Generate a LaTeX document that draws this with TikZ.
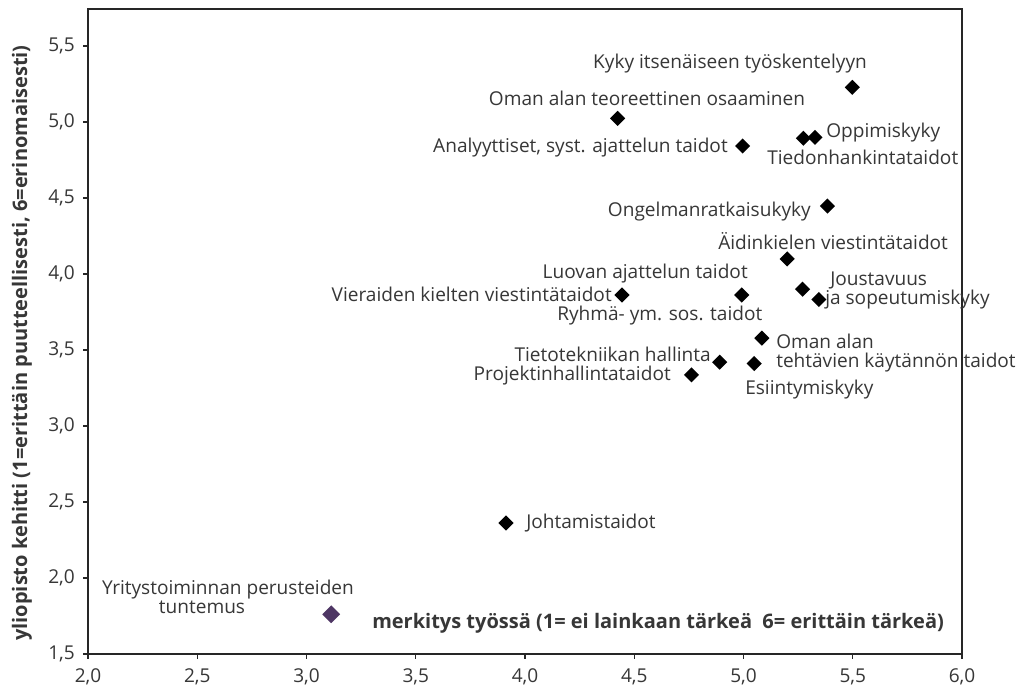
\documentclass[tikz,border=0pt]{standalone}
\usepackage{fontspec}
\setmainfont{Open Sans}
\usetikzlibrary{shapes.geometric}
\definecolor{txt}{RGB}{55,55,55}
\definecolor{pur}{RGB}{78,54,100}
\begin{document}
\begin{tikzpicture}[x=0.75pt,y=-0.75pt,
  lab/.style={font=\fontsize{14.3}{17}\selectfont, text=txt, inner sep=0pt},
  ttl/.style={font=\fontsize{15}{18}\selectfont\bfseries, text=txt, inner sep=0pt},
  dia/.style={diamond, fill=black, draw=none, inner sep=0pt, minimum size=11.5pt},
  axisline/.style={draw=black!85, line width=0.8pt}]
\useasboundingbox[fill=white] (0,0) rectangle (1030,695);
% frame and axes
\draw[axisline] (88,9) rectangle (962,654);
\foreach \i/\t in {0/2{,}0,1/2{,}5,2/3{,}0,3/3{,}5,4/4{,}0,5/4{,}5,6/5{,}0,7/5{,}5,8/6{,}0}{
  \draw[axisline] (88+109.25*\i,654) -- ++(0,5);
  \node[lab] (xt\i) at (88+109.25*\i,677) {\t};
}
\foreach \i/\t in {0/1{,}5,1/2{,}0,2/2{,}5,3/3{,}0,4/3{,}5,5/4{,}0,6/4{,}5,7/5{,}0,8/5{,}5}{
  \draw[axisline] (88,654-76*\i) -- ++(-5,0);
  \node[lab, anchor=east] (yt\i) at (75,654-76*\i) {\t};
}
% data points
\begin{scope}[shift={(88,654)}, x=163.875pt, y=114pt, shift={(-2,-1.5)}]
  \node[dia] (pKyky) at (5.498,5.228) {};
  \node[dia] (pTeor) at (4.424,5.024) {};
  \node[dia] (pAnal) at (4.996,4.842) {};
  \node[dia] (pOpp) at (5.274,4.893) {};
  \node[dia] (pTied) at (5.327,4.899) {};
  \node[dia] (pOng) at (5.384,4.447) {};
  \node[dia] (pAid) at (5.200,4.099) {};
  \node[dia] (pVier) at (4.444,3.862) {};
  \node[dia] (pLuo) at (4.992,3.862) {};
  \node[dia] (pJou) at (5.270,3.900) {};
  \node[dia] (pSop) at (5.345,3.832) {};
  \node[dia] (pOma) at (5.084,3.578) {};
  \node[dia] (pEsi) at (5.049,3.411) {};
  \node[dia] (pTiet) at (4.891,3.420) {};
  \node[dia] (pProj) at (4.762,3.336) {};
  \node[dia] (pJoht) at (3.913,2.362) {};
  \node[dia, fill=pur, minimum size=13.5pt] (pYrit) at (3.113,1.761) {};
\end{scope}
% labels
\node[lab, anchor=base] (lKyky) at (730,69) {Kyky itsenäiseen työskentelyyn};
\node[lab, anchor=base] (lTeor) at (647,106) {Oman alan teoreettinen osaaminen};
\node[lab, anchor=base east] (lAnal) at (728,153) {Analyyttiset, syst. ajattelun taidot};
\node[lab, anchor=base west] (lOpp) at (826,138) {Oppimiskyky};
\node[lab, anchor=base west] (lTied) at (767,165) {Tiedonhankintataidot};
\node[lab, anchor=base east] (lOng) at (811,216) {Ongelmanratkaisukyky};
\node[lab, anchor=base west] (lAid) at (718,249) {Äidinkielen viestintätaidot};
\node[lab, anchor=base east] (lLuo) at (748,278) {Luovan ajattelun taidot};
\node[lab, anchor=base west] (lJou) at (830,285) {Joustavuus};
\node[lab, anchor=base west] (lSop) at (825,304) {ja sopeutumiskyky};
\node[lab, anchor=base east] (lVier) at (612,301) {Vieraiden kielten viestintätaidot};
\node[lab, anchor=base west] (lRyh) at (557,320) {Ryhmä- ym. sos. taidot};
\node[lab, anchor=base west] (lOma) at (776,348) {Oman alan};
\node[lab, anchor=base west] (lTeht) at (776,367) {tehtävien käytännön taidot};
\node[lab, anchor=base east] (lTiet) at (711,361) {Tietotekniikan hallinta};
\node[lab, anchor=base east] (lProj) at (671,380) {Projektinhallintataidot};
\node[lab, anchor=base west] (lEsi) at (745,394) {Esiintymiskyky};
\node[lab, anchor=base west] (lJoht) at (526,528) {Johtamistaidot};
\node[lab, anchor=base] (lYrit) at (228,594) {Yritystoiminnan perusteiden};
\node[lab, anchor=base] (lTunt) at (202,613) {tuntemus};
% axis titles
\node[ttl, anchor=base west] (xtitle) at (372,628) {merkitys työssä (1= ei lainkaan tärkeä\ \ 6= erittäin tärkeä)};
\node[ttl, rotate=90] (ytitle) at (22,343) {yliopisto kehitti (1=erittäin puutteellisesti, 6=erinomaisesti)};
\end{tikzpicture}
\end{document}
